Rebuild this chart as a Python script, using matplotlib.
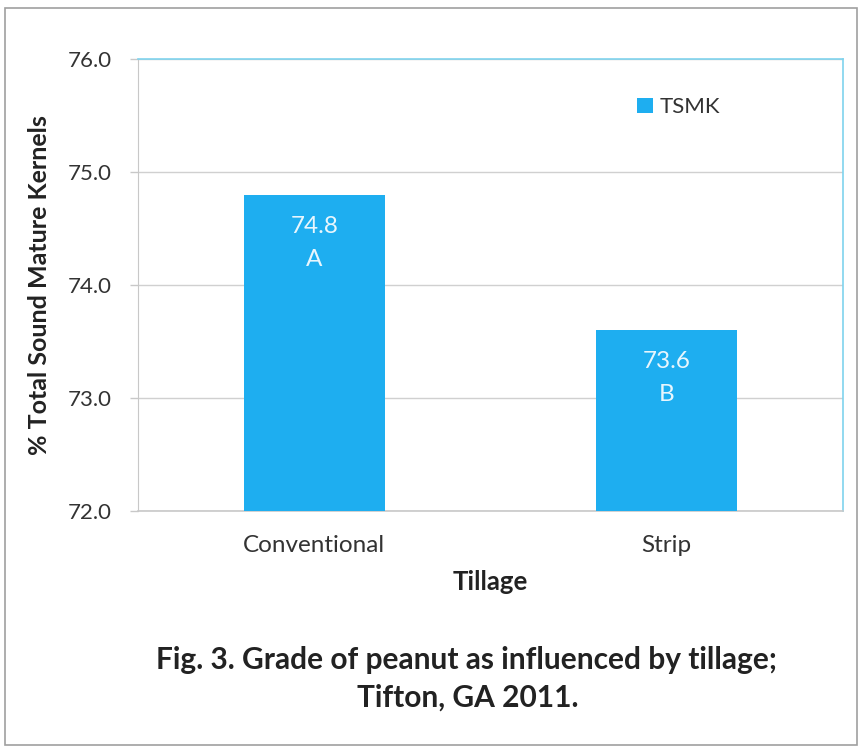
import matplotlib
matplotlib.use("Agg")
import matplotlib.pyplot as plt
from matplotlib.patches import Rectangle

plt.rcParams['font.family'] = ['Lato', 'DejaVu Sans']

# data
tillage = ['Conventional', 'Strip']
tsmk = [74.8, 73.6]
letters = ['A', 'B']
yticks = [72.0, 73.0, 74.0, 75.0, 76.0]

bar_color = '#1EAEF0'
frame_color = '#7FD3EE'

fig = plt.figure(figsize=(8.66, 7.51), dpi=100)
W, H = 866, 751
ax = fig.add_axes([138 / W, 1 - 511 / H, 705 / W, 452 / H])

x = range(len(tillage))
bars = ax.bar(x, [v - 72.0 for v in tsmk], bottom=72.0, width=0.40,
              color=bar_color, label='TSMK', zorder=3)

for xi, v, let in zip(x, tsmk, letters):
    ax.text(xi, v - 0.28, f'{v:.1f}', ha='center', va='center',
            color='#E8F6FD', fontsize=17.5, zorder=4)
    ax.text(xi, v - 0.57, let, ha='center', va='center',
            color='#E8F6FD', fontsize=17.5, zorder=4)

ax.set_xlim(-0.5, 1.5)
ax.set_ylim(72.0, 76.0)
ax.set_yticks(yticks)
ax.set_yticklabels([f'{t:.1f}' for t in yticks], fontsize=16, color='#333333')
ax.set_xticks(list(x))
ax.set_xticklabels(tillage, fontsize=17.5, color='#333333')
ax.tick_params(axis='x', length=0, pad=17)
ax.tick_params(axis='y', length=6, width=1.0, color='#C8C8C8', pad=13)

ax.grid(axis='y', color='#D0D0D0', linewidth=1.0, zorder=0)
for s in ['top', 'right']:
    ax.spines[s].set_color(frame_color)
    ax.spines[s].set_linewidth(1.2)
ax.spines['left'].set_color('#C8C8C8')
ax.spines['bottom'].set_color('#C8C8C8')
ax.spines['bottom'].set_linewidth(1.2)

ax.set_xlabel('Tillage', fontsize=18.5, fontweight='bold', color='#222222', labelpad=10)
ax.set_ylabel('% Total Sound Mature Kernels', fontsize=18, fontweight='bold',
              color='#222222', labelpad=12)

leg = ax.legend(loc='upper left', bbox_to_anchor=(0.68, 0.96), frameon=False,
                fontsize=16, handlelength=0.7, handleheight=0.7, handletextpad=0.3)
for t in leg.get_texts():
    t.set_color('#333333')

fig.text(466 / W, 1 - 660 / H, 'Fig. 3. Grade of peanut as influenced by tillage;',
         ha='center', va='center', fontsize=21.5, fontweight='bold', color='#222222')
fig.text(468 / W, 1 - 698 / H, 'Tifton, GA 2011.',
         ha='center', va='center', fontsize=21.5, fontweight='bold', color='#222222')

fig.patches.append(Rectangle((5 / W, 1 - 745 / H), 852 / W, 737 / H,
                             transform=fig.transFigure, fill=False,
                             edgecolor='#A0A0A0', linewidth=1.2))

fig.savefig('out.png', dpi=100)
